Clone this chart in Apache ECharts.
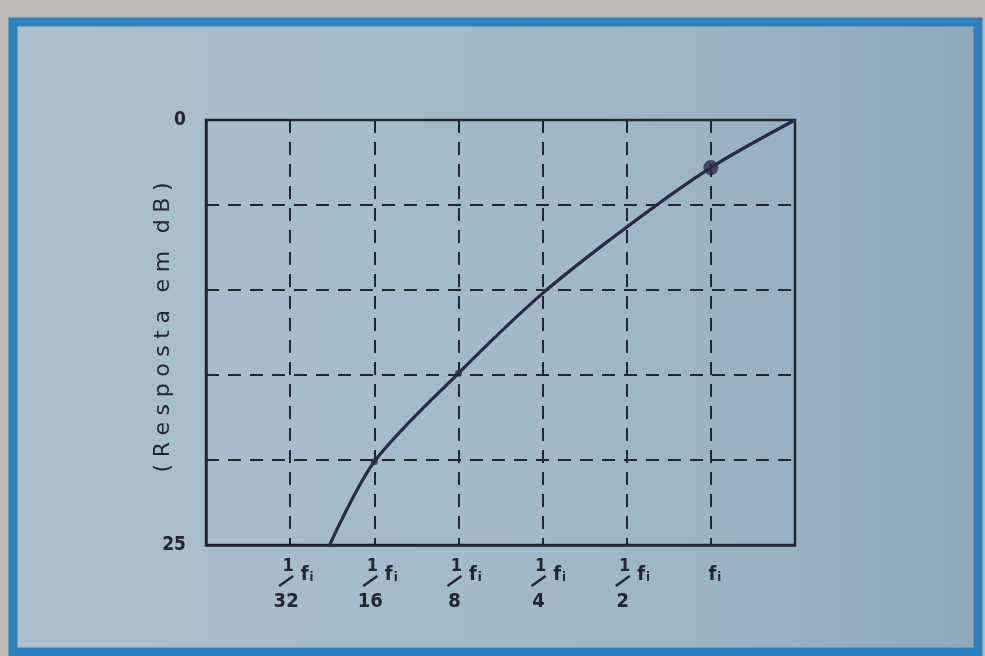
<!DOCTYPE html>
<html>
<head>
<meta charset="utf-8">
<script src="https://cdn.jsdelivr.net/npm/echarts@6/dist/echarts.min.js"></script>
<style>
  html, body { margin: 0; padding: 0; background: #bdbab2; }
  #c { width: 985px; height: 656px; }
</style>
</head>
<body>
<div id="c"></div>
<script>
// Frequency in octaves relative to fi, i.e. log2(f / fi)
const octaves = [-4.53, -4, -3, -2, -1, 0, 1];
// Response below the reference level, in dB
const responseDb = [25, 20.1, 14.9, 10.2, 6.3, 2.8, 0];
// Points marked on the curve
const markedOctaves = [-4, -3, 0];
const markedDb = [20.1, 14.9, 2.8];
// Frequency tick labels: numerator / denominator of the fraction of fi
const tickOctaves = [-5, -4, -3, -2, -1, 0];
const tickNum = ['1', '1', '1', '1', '1', ''];
const tickDen = ['32', '16', '8', '4', '2', ''];
// Only the ends of the dB axis carry a number
const yTickLabels = { 0: '0', 25: '25' };
const yName = '(Resposta em dB)';

const ink = '#23252f';
const curveInk = '#2b2a46';
const labelFont = '"DejaVu Sans Condensed", "DejaVu Sans", sans-serif';

const chart = echarts.init(document.getElementById('c'), null, { renderer: 'canvas' });

// widen the letter spacing of the axis title
const spacedName = yName.split(' ').map(w => w.split('').join('\u2009\u200A')).join('\u2002\u2009\u200A');

const option = {
  backgroundColor: '#bdbab2',
  animation: false,
  grid: {
    left: 206, right: 190, top: 120, bottom: 111,
    show: true, borderColor: ink, borderWidth: 2.5, backgroundColor: 'transparent'
  },
  xAxis: {
    type: 'value', min: -6, max: 1, interval: 1,
    axisLine: { show: true, onZero: false, lineStyle: { color: ink, width: 2.5 } },
    axisTick: { show: false },
    axisLabel: { show: false },
    splitLine: { show: true, lineStyle: { color: ink, width: 2, type: [13, 9] } }
  },
  yAxis: {
    type: 'value', inverse: true, min: 0, max: 25, interval: 5,
    axisLine: { show: true, onZero: false, lineStyle: { color: ink, width: 2.5 } },
    axisTick: { show: false },
    axisLabel: {
      margin: 20, color: ink, fontSize: 19, fontWeight: 'bold', fontFamily: labelFont,
      formatter: v => (yTickLabels[v] !== undefined ? yTickLabels[v] : '')
    },
    splitLine: { show: true, lineStyle: { color: ink, width: 2, type: [13, 9] } }
  },
  series: [
    {
      type: 'line', smooth: 0.3, symbol: 'none',
      data: octaves.map((x, i) => [x, responseDb[i]]),
      lineStyle: { color: curveInk, width: 3.2 }, z: 5
    },
    {
      type: 'scatter',
      data: markedOctaves.map((x, i) => [x, markedDb[i]]),
      symbolSize: v => (v[0] === 0 ? 15 : 7),
      itemStyle: { color: curveInk }, z: 6
    }
  ]
};
chart.setOption(option);

// Panel frame, axis title and the fraction labels under the frequency axis
function buildGraphic() {
  const els = [{
    id: 'panel', type: 'rect', z: -100, silent: true,
    shape: { x: 13, y: 22, width: 965, height: 630 },
    style: {
      fill: new echarts.graphic.LinearGradient(0, 0, 1, 0, [
        { offset: 0, color: '#adc1cc' },
        { offset: 0.6, color: '#a2b8c6' },
        { offset: 1, color: '#8fa9bb' }
      ]),
      stroke: '#2d82bd', lineWidth: 9
    }
  }];
  const xLeft = chart.convertToPixel({ xAxisIndex: 0 }, -6);
  const yMid = chart.convertToPixel({ yAxisIndex: 0 }, 12.5);
  els.push({
    id: 'yname', type: 'text', x: xLeft - 43, y: yMid - 5, rotation: Math.PI / 2,
    style: {
      text: spacedName, fill: ink, fontSize: 22, fontFamily: '"DejaVu Sans", sans-serif',
      align: 'center', verticalAlign: 'middle'
    }
  });
  const yTop = chart.convertToPixel({ yAxisIndex: 0 }, 25);
  tickOctaves.forEach((t, i) => {
    const px = chart.convertToPixel({ xAxisIndex: 0 }, t);
    const txt = { fill: ink, fontFamily: labelFont, fontWeight: 'bold', align: 'center', verticalAlign: 'middle' };
    if (tickNum[i]) {
      els.push({ id: 'n' + i, type: 'text', x: px - 2, y: yTop + 21, style: Object.assign({ text: tickNum[i], fontSize: 18 }, txt) });
      els.push({ id: 's' + i, type: 'line', shape: { x1: px - 11, y1: yTop + 41, x2: px + 3, y2: yTop + 31 }, style: { stroke: ink, lineWidth: 2.4 } });
      els.push({ id: 'd' + i, type: 'text', x: px - 4, y: yTop + 57, style: Object.assign({ text: tickDen[i], fontSize: 20 }, txt) });
    }
    const fx = tickNum[i] ? px + 17 : px + 4;
    els.push({
      id: 'f' + i, type: 'text', x: fx, y: yTop + 30,
      style: {
        text: '{f|f}{i|i}', align: 'center', verticalAlign: 'middle',
        rich: {
          f: { fill: ink, fontFamily: labelFont, fontWeight: 'bold', fontSize: 20 },
          i: { fill: ink, fontFamily: labelFont, fontWeight: 'bold', fontSize: 13, padding: [6, 0, 0, 1] }
        }
      }
    });
  });
  chart.setOption({ graphic: { elements: els } });
}
buildGraphic();
</script>
</body>
</html>
